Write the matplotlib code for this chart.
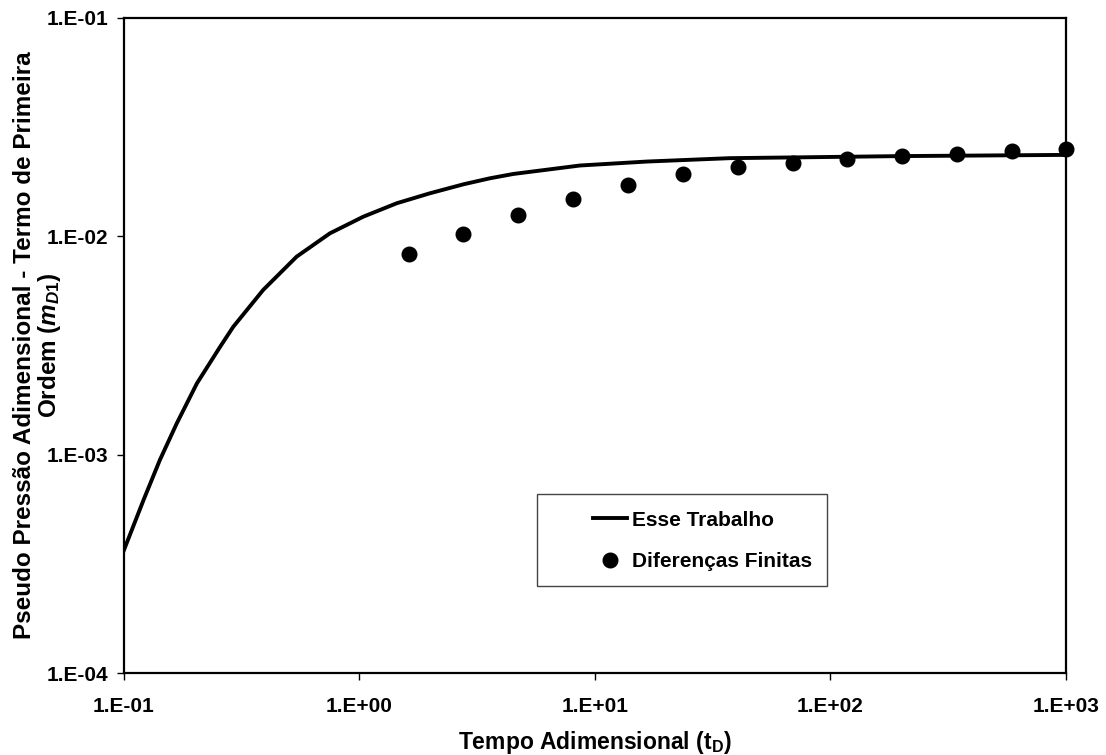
import numpy as np
import matplotlib
matplotlib.use("Agg")
import matplotlib.pyplot as plt
from matplotlib.ticker import FixedLocator, FuncFormatter, NullLocator
from matplotlib.patches import Rectangle

# solucao analitica (linha)
t_modelo = [0.1, 0.121, 0.142, 0.1675, 0.204, 0.256, 0.291, 0.390, 0.541,
            0.749, 1.038, 1.439, 1.99, 2.76, 3.58, 4.50, 8.63, 16.6, 37.4, 74.3,
            197, 1000]
m_modelo = [3.66e-4, 6.19e-4, 9.45e-4, 1.39e-3, 2.12e-3, 3.12e-3, 3.85e-3,
            5.68e-3, 8.07e-3, 1.032e-2, 1.230e-2, 1.417e-2, 1.574e-2, 1.73e-2,
            1.844e-2, 1.93e-2, 2.11e-2, 2.20e-2, 2.28e-2, 2.30e-2, 2.33e-2, 2.36e-2]

# diferencas finitas (pontos)
t_df = [1.62, 2.76, 4.72, 8.09, 13.8, 23.7, 40.4, 69.1, 117.8, 201, 344, 590, 1000]
m_df = [0.00828, 0.01021, 0.01253, 0.01487, 0.01713, 0.01936, 0.02085, 0.02175,
        0.02253, 0.02333, 0.02388, 0.02459, 0.02505]

x_ticks = [0.1, 1, 10, 100, 1000]
y_ticks = [1e-4, 1e-3, 1e-2, 1e-1]

plt.rcParams['font.family'] = ['Liberation Sans', 'DejaVu Sans']
plt.rcParams['font.weight'] = 'bold'
plt.rcParams['mathtext.fontset'] = 'custom'
plt.rcParams['mathtext.rm'] = 'Liberation Sans:bold'
plt.rcParams['mathtext.it'] = 'Liberation Sans:bold:italic'
plt.rcParams['mathtext.bf'] = 'Liberation Sans:bold'

fig = plt.figure(figsize=(11.06, 7.55), dpi=100)
ax = fig.add_axes([0.1121, 0.1086, 0.8517, 0.8676])

ax.plot(t_modelo, m_modelo, color='black', lw=2.8, label='Esse Trabalho')
ax.plot(t_df, m_df, 'o', color='black', ms=10.5, clip_on=False, zorder=3,
        label='Diferenças Finitas')

ax.set_xscale('log')
ax.set_yscale('log')
ax.set_xlim(0.1, 1000)
ax.set_ylim(1e-4, 1e-1)

fmt = FuncFormatter(lambda v, pos: "1.E%+03d" % int(round(np.log10(v))))
ax.xaxis.set_major_locator(FixedLocator(x_ticks))
ax.yaxis.set_major_locator(FixedLocator(y_ticks))
ax.xaxis.set_major_formatter(fmt)
ax.yaxis.set_major_formatter(fmt)
ax.xaxis.set_minor_locator(NullLocator())
ax.yaxis.set_minor_locator(NullLocator())
ax.tick_params(axis='both', direction='out', length=5, width=1, labelsize=15)
ax.tick_params(axis='x', pad=12)
ax.tick_params(axis='y', pad=6)

for s in ax.spines.values():
    s.set_linewidth(1.6)

ax.set_xlabel(r'Tempo Adimensional (t$_\mathregular{D}$)', fontsize=16.5,
              fontweight='bold')
ax.set_ylabel('Pseudo Pressão Adimensional - Termo de Primeira\n'
              r'Ordem ($m_{D1}$)', fontsize=17.5, fontweight='bold',
              linespacing=1.0)
ax.xaxis.set_label_coords(0.5, -0.085)
ax.yaxis.set_label_coords(-0.0645, 0.5)

# caixa da legenda
ax.add_patch(Rectangle((537 / 1106, 1 - 586 / 755), 290 / 1106, 92 / 755,
                       transform=fig.transFigure, facecolor='white',
                       edgecolor='#444444', lw=1.0, zorder=5))
leg = ax.legend(loc='center left', bbox_to_anchor=(593 / 1106, 1 - 541 / 755),
                bbox_transform=fig.transFigure, frameon=False, fontsize=15,
                handlelength=1.63, handletextpad=0.25, labelspacing=1.1,
                borderpad=0, borderaxespad=0)
leg.set_zorder(6)

fig.savefig('out.png', dpi=100)
